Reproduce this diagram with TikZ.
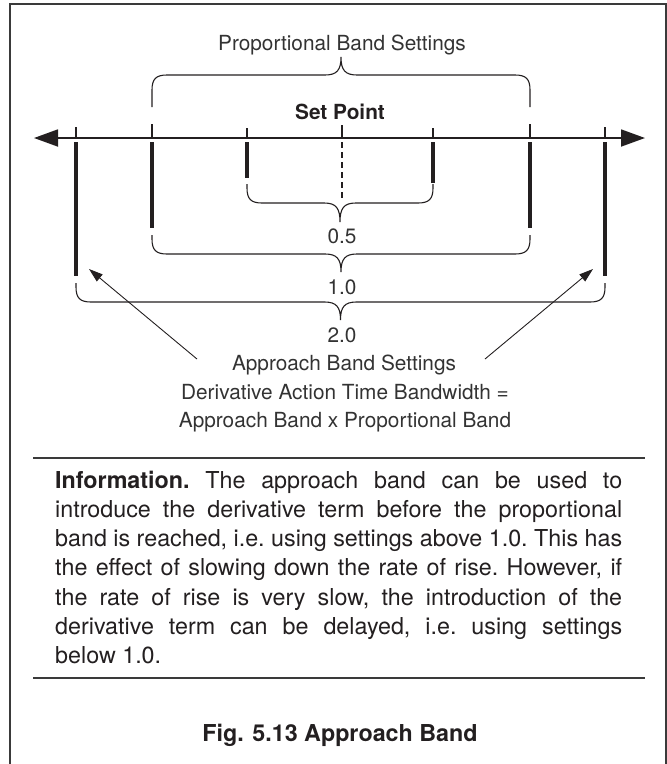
\documentclass[tikz,border=0pt]{standalone}
\usepackage{fontspec}
\setmainfont{TeX Gyre Heros}
\usetikzlibrary{arrows.meta}
\definecolor{apbInk}{HTML}{231F20}
\definecolor{apbText}{HTML}{333333}
\definecolor{apbFrame}{HTML}{3A3A3A}
\tikzset{
  apb axis/.style={draw=apbInk, line width=1.8pt, {Triangle[length=24pt,width=17pt]}-{Triangle[length=24pt,width=17pt]}},
  apb tick/.style={draw=apbInk, line width=1.1pt},
  apb bar/.style={draw=apbInk, line width=3.6pt},
  apb mid/.style={draw=apbInk, line width=2.3pt, dash pattern=on 6pt off 4pt},
  apb brace/.style={draw=apbInk, line width=1.1pt},
  apb pointer/.style={draw=apbInk, line width=0.9pt, -{Triangle[length=14pt,width=9pt]}},
  apb rule/.style={draw=apbFrame, line width=1.4pt},
  apb label/.style={font=\fontsize{20.8}{24}\selectfont, text=apbText, inner sep=0pt, anchor=base},
  apb bold/.style={font=\fontsize{20.8}{24}\selectfont\bfseries, text=apbInk, inner sep=0pt, anchor=base},
  apb para/.style={font=\fontsize{23.3}{29.3}\selectfont, text=apbInk, inner sep=0pt, text width=567pt, align=justify},
}
% brace: #1,#2 end x, #3 leg end y, #4 bar y, #5 tip y
\newcommand{\bandbrace}[5]{%
  \pgfmathsetmacro\bm{(#1+#2)/2}
  \pgfmathsetmacro\bd{(#4>#3)?1:-1}
  \pgfmathsetmacro\bcA{#4-15*(\bd)}
  \pgfmathsetmacro\bcB{#4-4*(\bd)}
  \pgfmathsetmacro\bcC{#4+5*(\bd)}
  \draw[apb brace] (#1,#3) -- (#1,\bcA) .. controls (#1,\bcB) and (#1+4,#4) .. (#1+15,#4)
    -- (\bm-16,#4) .. controls (\bm-4,#4) and (\bm,\bcC) .. (\bm,#5)
    .. controls (\bm,\bcC) and (\bm+4,#4) .. (\bm+16,#4)
    -- (#2-15,#4) .. controls (#2-4,#4) and (#2,\bcB) .. (#2,\bcA) -- (#2,#3);
}

\begin{document}
\begin{tikzpicture}[x=1pt,y=-1pt]
\useasboundingbox (0,0) rectangle (667,764);
% frame, open at the bottom
\draw[apb rule] (10,764)--(10,4)--(666,4)--(666,764);

% band ticks: x / top of thin part / end of thick part
\foreach \tx/\ttop/\tbot in {76/127/276, 605/127/276, 152/124/228, 530/124/228, 247/128/178, 433/128/183}{
  \draw[apb tick] (\tx,\ttop) -- (\tx,138);
  \draw[apb bar] (\tx,142) -- (\tx,\tbot);
}
\draw[apb tick] (342,125) -- (342,138);
\draw[apb mid] (342,142) -- (342,201);
\coordinate (axisL) at (34,138);
\coordinate (axisR) at (645,138);
\draw[apb axis] (axisL) -- (axisR);

% braces
\bandbrace{152}{530}{107}{75}{57}
\bandbrace{247}{433}{184}{203}{222}
\bandbrace{152}{530}{235}{254}{272}
\bandbrace{76}{605}{283}{302}{320}

\node[apb label] (pbs) at (342,50.7) {Proportional Band Settings};
\node[apb bold] (sp) at (340,119) {Set Point};
\node[apb label] (l05) at (342,243.3) {0.5};
\node[apb label] (l10) at (342,294) {1.0};
\node[apb label] (l20) at (342,342.3) {2.0};
\node[apb label] (abs) at (344,370) {Approach Band Settings};
\node[apb label] (dat) at (345,399) {Derivative Action Time Bandwidth =};
\node[apb label] (abx) at (345,427.3) {Approach Band x Proportional Band};

\coordinate (ptrL) at (197,359);
\coordinate (ptrR) at (485,359);
\coordinate (tipL) at (89,269);
\coordinate (tipR) at (593,269);
\draw[apb pointer] (ptrL) -- (tipL);
\draw[apb pointer] (ptrR) -- (tipR);

\draw[apb rule] (33,458) -- (645,458);
\node[apb para, anchor=north west] (info) at (55,470.5) {\frenchspacing\hyphenpenalty=10000
  \textbf{Information.} The approach band can be used to\linebreak
  introduce the derivative term before the proportional\linebreak
  band is reached, i.e. using settings above 1.0. This has\linebreak
  the effect of slowing down the rate of rise. However, if\linebreak
  the rate of rise is very slow, the introduction of the\linebreak
  derivative term can be delayed, i.e. using settings\linebreak
  below 1.0.};
\draw[apb rule] (33,678) -- (645,678);

\node[apb bold, font=\fontsize{23.3}{28}\selectfont\bfseries] (cap) at (340,741.7) {Fig. 5.13 Approach Band};
\end{tikzpicture}
\end{document}
